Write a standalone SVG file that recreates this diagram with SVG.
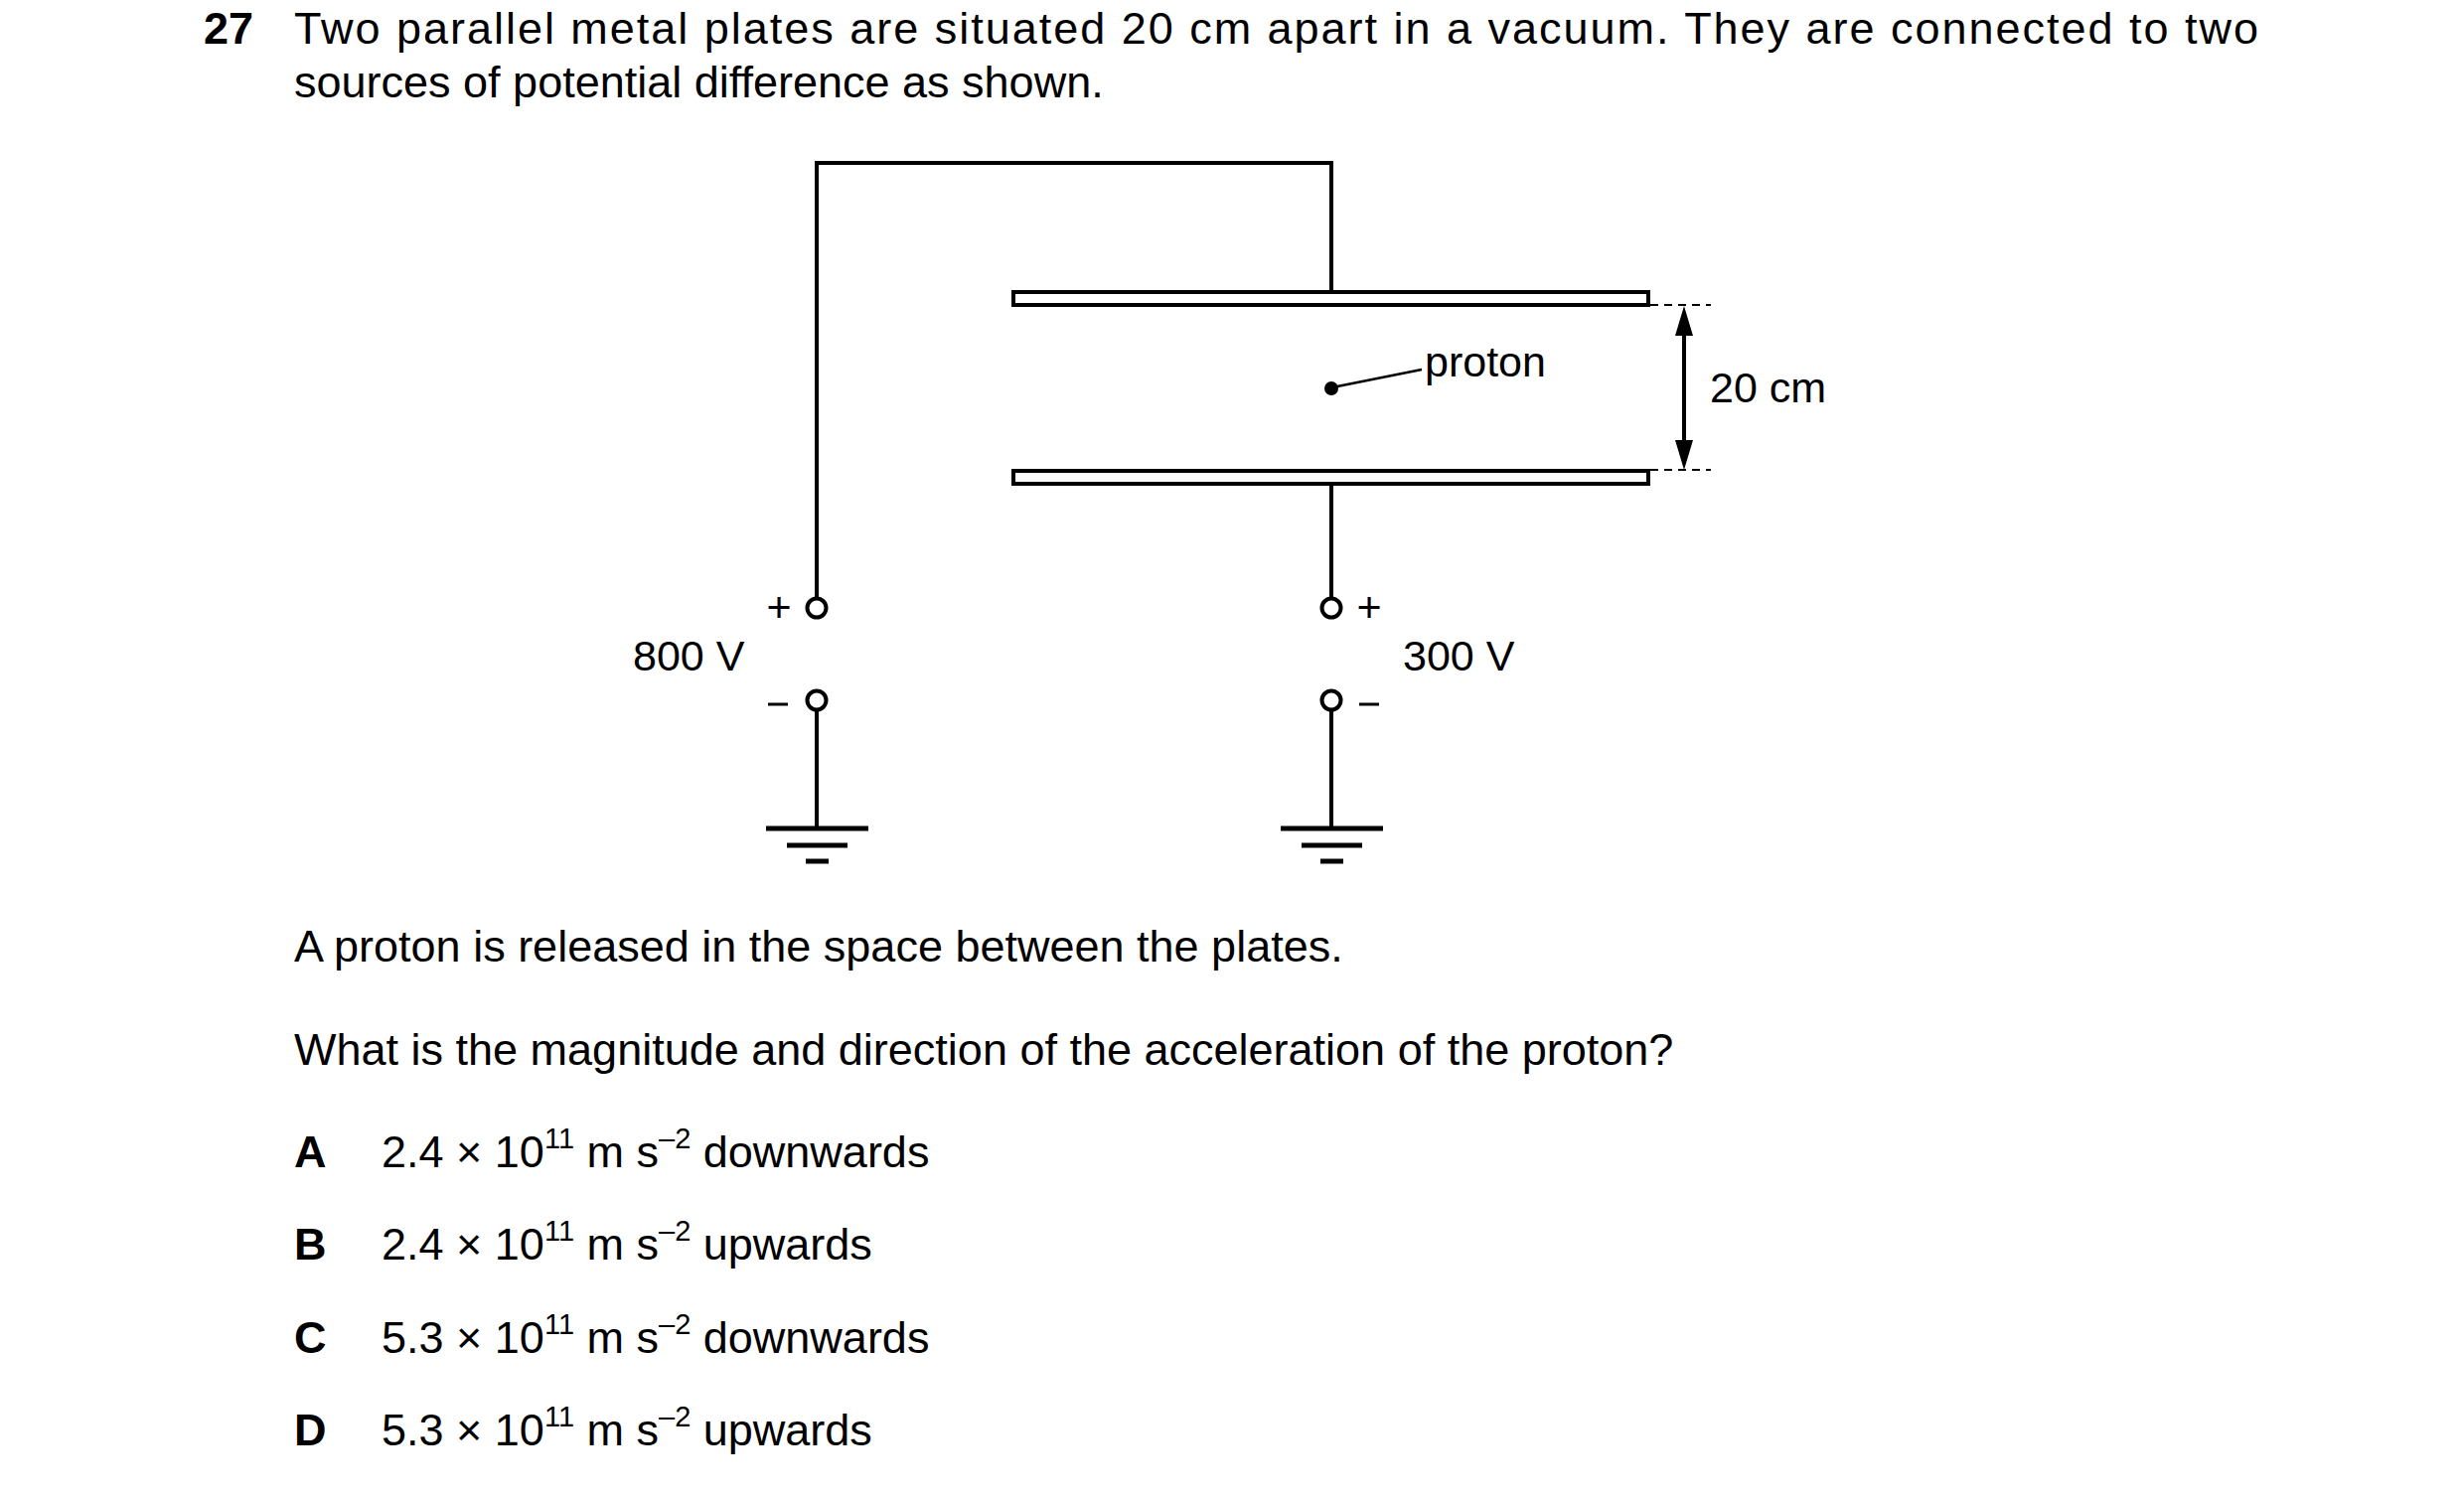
<svg xmlns="http://www.w3.org/2000/svg" width="2480" height="1506" viewBox="0 0 2480 1506">
<style>
text{font-family:"Liberation Sans",Arial,sans-serif;fill:#000}
.t{font-size:45px}
.d{font-size:43px}
.w{stroke:#000;stroke-width:4;fill:none}
.b{font-weight:bold}
.s{font-size:29px}
</style>
<rect width="2480" height="1506" fill="#fff"/>
<text class="t b" x="205" y="44">27</text>
<text class="t" x="296" y="44" textLength="1977" lengthAdjust="spacing">Two parallel metal plates are situated 20 cm apart in a vacuum. They are connected to two</text>
<text class="t" x="296" y="98">sources of potential difference as shown.</text>
<g id="connectors">
<polyline class="w" points="822,603 822,164 1340,164 1340,294"/>
<line class="w" x1="1340" y1="487" x2="1340" y2="603"/>
<line class="w" x1="822" y1="714" x2="822" y2="833"/>
<line class="w" x1="1340" y1="714" x2="1340" y2="833"/>
<line x1="1341" y1="390" x2="1431" y2="372" stroke="#000" stroke-width="2.5"/>
<line x1="1695" y1="330" x2="1695" y2="450" stroke="#000" stroke-width="4"/>
<path d="M1695,308 L1686,338 L1704,338 z M1695,473 L1686,443 L1704,443 z" fill="#000"/>
<path d="M1661,307 H1722 M1661,473 H1722" stroke="#000" stroke-width="2" stroke-dasharray="8,6"/>
</g>
<g id="plate-top"><rect x="1020" y="294" width="639" height="13" fill="#fff" stroke="#000" stroke-width="4"/></g>
<g id="plate-bottom"><rect x="1020" y="474" width="639" height="13" fill="#fff" stroke="#000" stroke-width="4"/></g>
<g id="proton"><circle cx="1340" cy="391" r="7" fill="#000"/><text class="d" x="1434" y="379">proton</text></g>
<g id="dim"><text class="d" x="1721" y="405">20 cm</text></g>
<g id="src800">
<circle cx="822" cy="612" r="9.5" fill="#fff" stroke="#000" stroke-width="4"/>
<circle cx="822" cy="705" r="9.5" fill="#fff" stroke="#000" stroke-width="4"/>
<text class="d" x="784" y="626" text-anchor="middle">+</text>
<line x1="773" y1="709" x2="793" y2="709" stroke="#000" stroke-width="3"/>
<text class="d" x="637" y="675">800 V</text>
</g>
<g id="src300">
<circle cx="1340" cy="612" r="9.5" fill="#fff" stroke="#000" stroke-width="4"/>
<circle cx="1340" cy="705" r="9.5" fill="#fff" stroke="#000" stroke-width="4"/>
<text class="d" x="1378" y="626" text-anchor="middle">+</text>
<line x1="1368" y1="709" x2="1388" y2="709" stroke="#000" stroke-width="3"/>
<text class="d" x="1412" y="675">300 V</text>
</g>
<g id="ground1"><path d="M771,834 H874 M792,851 H853 M811,867 H834" stroke="#000" stroke-width="5"/></g>
<g id="ground2"><path d="M1289,834 H1392 M1310,851 H1371 M1329,867 H1352" stroke="#000" stroke-width="5"/></g>
<text class="t" x="296" y="968">A proton is released in the space between the plates.</text>
<text class="t" x="296" y="1072">What is the magnitude and direction of the acceleration of the proton?</text>
<text class="t b" x="296" y="1175">A</text>
<text class="t" x="384" y="1175">2.4 × 10<tspan class="s" dy="-19">11</tspan><tspan dy="19"> m s</tspan><tspan class="s" dy="-19">–2</tspan><tspan dy="19"> downwards</tspan></text>
<text class="t b" x="296" y="1268">B</text>
<text class="t" x="384" y="1268">2.4 × 10<tspan class="s" dy="-19">11</tspan><tspan dy="19"> m s</tspan><tspan class="s" dy="-19">–2</tspan><tspan dy="19"> upwards</tspan></text>
<text class="t b" x="296" y="1362">C</text>
<text class="t" x="384" y="1362">5.3 × 10<tspan class="s" dy="-19">11</tspan><tspan dy="19"> m s</tspan><tspan class="s" dy="-19">–2</tspan><tspan dy="19"> downwards</tspan></text>
<text class="t b" x="296" y="1455">D</text>
<text class="t" x="384" y="1455">5.3 × 10<tspan class="s" dy="-19">11</tspan><tspan dy="19"> m s</tspan><tspan class="s" dy="-19">–2</tspan><tspan dy="19"> upwards</tspan></text>
</svg>
